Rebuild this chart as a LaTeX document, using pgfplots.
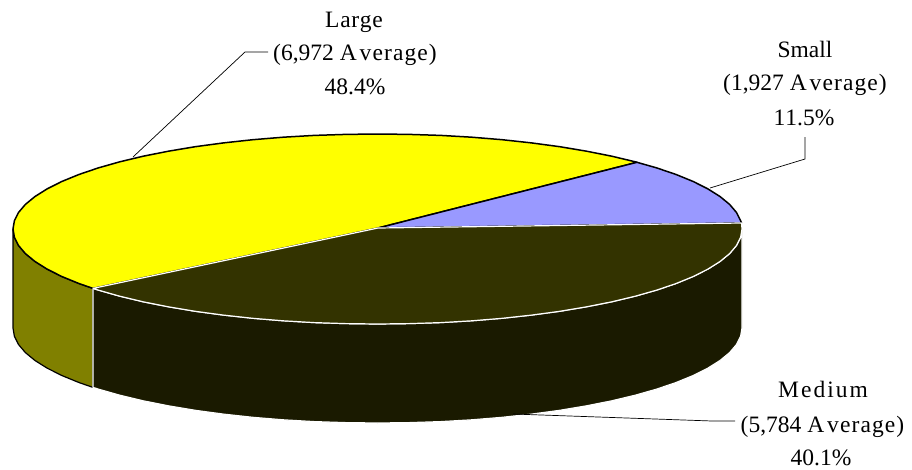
\documentclass[border=0pt]{standalone}
\usepackage{pgfplots}
\pgfplotsset{compat=1.18}
\usepackage{fontspec}
\setmainfont[Kerning=Off]{Liberation Serif}
\definecolor{cyel}{HTML}{FFFF00}
\definecolor{cblu}{HTML}{9999FF}
\definecolor{cmedtop}{HTML}{333300}
\definecolor{cmedside}{HTML}{1A1A00}
\definecolor{colive}{HTML}{808000}
\newcommand{\lab}[3]{\node[font=\fontsize{23.5}{28}\selectfont,anchor=base,inner sep=0pt] at (axis cs:#1,#2) {#3};}
\newcommand{\Av}{A\kern3pt v\kern1.1pt e\kern1.1pt r\kern1.1pt a\kern1.1pt g\kern1.1pt e\kern1.1pt}
\begin{document}
\begin{tikzpicture}
\begin{axis}[
  scale only axis, width=912pt, height=469pt,
  xmin=0, xmax=912, ymin=0, ymax=469, y dir=reverse,
  axis lines=none, clip=false]
% frame of the picture (invisible)
\addplot[draw=none, forget plot] coordinates {(0,0)(912,469)};
% olive side (Large)
\addplot[draw=black, line width=1.2pt, fill=colive, line join=round] coordinates {
 (93,288.4)(78.9,283.5)(61.8,276.5)(47.1,269.1)(35,261.5)(25.4,253.6)(18.5,245.5)(14.4,237.3)(13,229)
 (13,328)(14.4,336.3)(18.5,344.5)(25.4,352.6)(35,360.5)(47.1,368.1)(61.8,375.5)(78.9,382.5)(93,387.4)(93,288.4)};
% dark side (Medium)
\addplot[draw=white, line width=1.2pt, fill=cmedside, line join=round] coordinates {
 (742,229)(742,328)(740.6,336.3)(736.5,344.5)(729.6,352.6)(720,360.5)(707.9,368.1)(693.2,375.5)(676.1,382.5)(656.7,389.1)(635.2,395.2)(611.8,400.8)(586.6,405.8)(559.8,410.3)(531.5,414.1)(502.2,417.3)(471.8,419.8)(440.8,421.6)(409.3,422.6)(377.5,423)
 (345.7,422.6)(314.2,421.6)(283.2,419.8)(252.8,417.3)(223.5,414.1)(195.2,410.3)(168.4,405.8)(143.2,400.8)(119.8,395.2)(98.3,389.1)(93,387.4)
 (93,288.4)(98.3,290.1)(119.8,296.2)(143.2,301.8)(168.4,306.8)(195.2,311.3)(223.5,315.1)(252.8,318.3)(283.2,320.8)(314.2,322.6)(345.7,323.6)(377.5,324)
 (409.3,323.6)(440.8,322.6)(471.8,320.8)(502.2,318.3)(531.5,315.1)(559.8,311.3)(586.6,306.8)(611.8,301.8)(635.2,296.2)(656.7,290.1)(676.1,283.5)(693.2,276.5)(707.9,269.1)(720,261.5)(729.6,253.6)(736.5,245.5)(740.6,237.3)(742,229)};
% Large top
\addplot[draw=black, line width=1.5pt, fill=cyel, line join=round] coordinates {
 (378,228)(93,288.4)(78.9,283.5)(61.8,276.5)(47.1,269.1)(35,261.5)(25.4,253.6)(18.5,245.5)(14.4,237.3)(13,229)
 (14.4,220.7)(18.5,212.5)(25.4,204.4)(35,196.5)(47.1,188.9)(61.8,181.5)(78.9,174.5)(98.3,167.9)(119.8,161.8)(143.2,156.2)(168.4,151.2)(195.2,146.7)(223.5,142.9)(252.8,139.7)(283.2,137.2)(314.2,135.4)(345.7,134.4)(377.5,134)
 (409.3,134.4)(440.8,135.4)(471.8,137.2)(502.2,139.7)(531.5,142.9)(559.8,146.7)(586.6,151.2)(611.8,156.2)(635.2,161.8)(637,162.3)(378,228)};
% Small top
\addplot[draw=black, line width=1.5pt, fill=cblu, line join=round] coordinates {
 (378,228)(637,162.3)(656.7,167.9)(676.1,174.5)(693.2,181.5)(707.9,188.9)(720,196.5)(729.6,204.4)(736.5,212.5)(740.6,220.7)(741.5,223)(378,228)};
% Medium top
\addplot[draw=white, line width=1.2pt, fill=cmedtop, line join=round] coordinates {
 (378,228)(741.5,223)(742,229)(740.6,237.3)(736.5,245.5)(729.6,253.6)(720,261.5)(707.9,269.1)(693.2,276.5)(676.1,283.5)(656.7,290.1)(635.2,296.2)(611.8,301.8)(586.6,306.8)(559.8,311.3)(531.5,315.1)(502.2,318.3)(471.8,320.8)(440.8,322.6)(409.3,323.6)(377.5,324)
 (345.7,323.6)(314.2,322.6)(283.2,320.8)(252.8,318.3)(223.5,315.1)(195.2,311.3)(168.4,306.8)(143.2,301.8)(119.8,296.2)(98.3,290.1)(93,288.4)(378,228)};
% leaders
\addplot[draw=black, line width=0.7pt] coordinates {(133,157)(245,52)(268,52)};
\addplot[draw=black, line width=0.7pt] coordinates {(710,188)(805,159)(805,137)};
\addplot[draw=black, line width=0.7pt] coordinates {(513,414)(712,421)(735,421)};
% labels
\lab{354}{27}{L\kern.7pt a\kern.7pt r\kern.7pt g\kern.7pt e}
\lab{355}{60}{(6,972 \Av)}
\lab{355}{94}{48.4\%}
\lab{805}{57}{Small}
\lab{805}{90}{(1,927 \Av)}
\lab{804}{125}{11.5\%}
\lab{823}{397}{M\kern2pt e\kern2pt d\kern2pt i\kern2pt u\kern2pt m}
\lab{822.5}{432}{(5,784 \Av)}
\lab{821}{465}{40.1\%}
\end{axis}
\end{tikzpicture}
\end{document}
